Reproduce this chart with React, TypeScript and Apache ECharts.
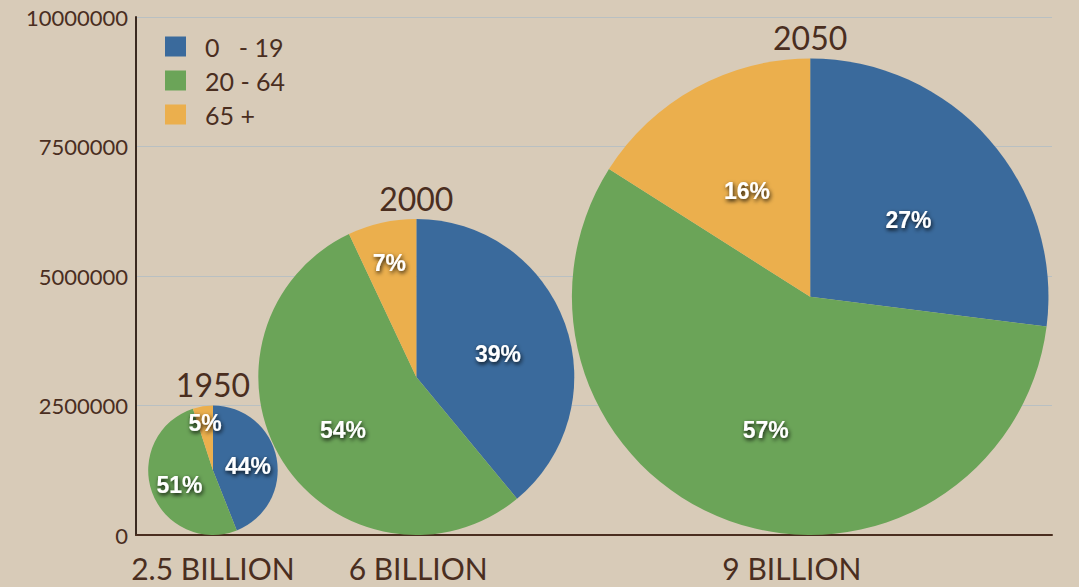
import React, { useEffect, useRef } from "react";
import * as echarts from "echarts";

const ageGroups = ["0   - 19", "20 - 64", "65 +"];
const groupColors = ["#3a6a9c", "#6ba458", "#ebaf4d"];
// share (%) of each age group, per year
const share0to19 = [44, 39, 27];
const share20to64 = [51, 54, 57];
const share65plus = [5, 7, 16];
const shares = [share0to19, share20to64, share65plus];
const years = ["1950", "2000", "2050"];
const population = [2500000, 6100000, 9200000]; // thousands -> pie diameter on y axis
const totalLabels = ["2.5 BILLION", "6 BILLION", "9 BILLION"];
const pieX = [8.4, 30.6, 73.6];
const totalLabelX = [8.4, 30.8, 71.6];

const BROWN = "#4a2e1f";
const AXIS_FONT = "Lato, 'Noto Sans', sans-serif";

export default function App() {
  const ref = useRef<HTMLDivElement>(null);
  useEffect(() => {
    if (!ref.current) return;
    const chart = echarts.init(ref.current, undefined, { renderer: "svg" });

    const ageSeries = ageGroups.map((name, s) => ({
      type: "custom",
      name,
      itemStyle: { color: groupColors[s] },
      data: years.map((_, i) => [pieX[i], population[i], i]),
      encode: { x: 0, y: 1 },
      renderItem: (params: any, api: any) => {
        const i = params.dataIndex;
        const pop = population[i];
        const c = api.coord([pieX[i], pop / 2]);
        const r = api.size([0, pop])[1] / 2;
        let before = 0;
        let total = 0;
        shares.forEach((arr, k) => {
          if (k < s) before += arr[i];
          total += arr[i];
        });
        const v = shares[s][i];
        const a0 = -Math.PI / 2 + (2 * Math.PI * before) / total;
        const a1 = a0 + (2 * Math.PI * v) / total;
        const mid = (a0 + a1) / 2;
        const lr = r * (v < 10 ? 0.78 : 0.55);
        return {
          type: "group",
          children: [
            {
              type: "sector",
              shape: { cx: c[0], cy: c[1], r, r0: 0, startAngle: a0, endAngle: a1, clockwise: true },
              style: { fill: groupColors[s] },
            },
            {
              type: "text",
              x: c[0] + Math.cos(mid) * lr,
              y: c[1] + Math.sin(mid) * lr + r * 0.04,
              z2: 10,
              style: {
                text: v + "%",
                fill: "#ffffff",
                fontSize: 23,
                fontWeight: "bold",
                fontFamily: "'Liberation Sans', Arial, sans-serif",
                align: "center",
                verticalAlign: "middle",
                textShadowColor: "rgba(0,0,0,0.9)",
                textShadowBlur: 4,
                textShadowOffsetX: 1,
                textShadowOffsetY: 2,
              },
            },
          ],
        };
      },
    }));

    const labelSeries = {
      type: "custom",
      name: "labels",
      data: years.map((_, i) => [pieX[i], population[i], i]),
      encode: { x: 0, y: 1 },
      renderItem: (params: any, api: any) => {
        const i = params.dataIndex;
        const top = api.coord([pieX[i], population[i]]);
        const bottom = api.coord([totalLabelX[i], 0]);
        return {
          type: "group",
          children: [
            {
              type: "text",
              x: top[0],
              y: top[1] - 5,
              style: {
                text: years[i],
                fill: BROWN,
                fontSize: 32,
                fontFamily: AXIS_FONT,
                align: "center",
                verticalAlign: "bottom",
              },
            },
            {
              type: "text",
              x: bottom[0],
              y: bottom[1] + 18,
              style: {
                text: totalLabels[i],
                fill: BROWN,
                fontSize: 30,
                fontFamily: AXIS_FONT,
                align: "center",
                verticalAlign: "top",
              },
            },
          ],
        };
      },
    };

    chart.setOption({
      animation: false,
      backgroundColor: "#d8cbb8",
      grid: { left: 136, right: 27, top: 17, bottom: 52 },
      legend: {
        data: ageGroups,
        orient: "vertical",
        left: 165,
        top: 34,
        padding: 0,
        itemGap: 9,
        itemWidth: 21,
        itemHeight: 20,
        icon: "rect",
        textStyle: {
          color: BROWN,
          fontSize: 25,
          fontFamily: AXIS_FONT,
          padding: [0, 0, 0, 14],
        },
      },
      xAxis: {
        type: "value",
        min: 0,
        max: 100,
        axisLine: { show: true, onZero: false, lineStyle: { color: "#4a2e1f", width: 2 } },
        axisTick: { show: false },
        axisLabel: { show: false },
        splitLine: { show: false },
      },
      yAxis: {
        type: "value",
        min: 0,
        max: 10000000,
        interval: 2500000,
        axisLine: { show: true, lineStyle: { color: "#3a2a20", width: 2 } },
        axisTick: { show: false },
        axisLabel: {
          color: BROWN,
          fontSize: 22,
          fontFamily: AXIS_FONT,
          margin: 8,
          formatter: (v: number) => String(v),
        },
        splitLine: { show: true, lineStyle: { color: "#b9c0c2", width: 1 } },
      },
      series: [...ageSeries, labelSeries],
    });
    return () => chart.dispose();
  }, []);
  return (
    <div
      ref={ref}
      style={{ position: "absolute", left: 0, top: 0, width: 1079, height: 587 }}
    />
  );
}
